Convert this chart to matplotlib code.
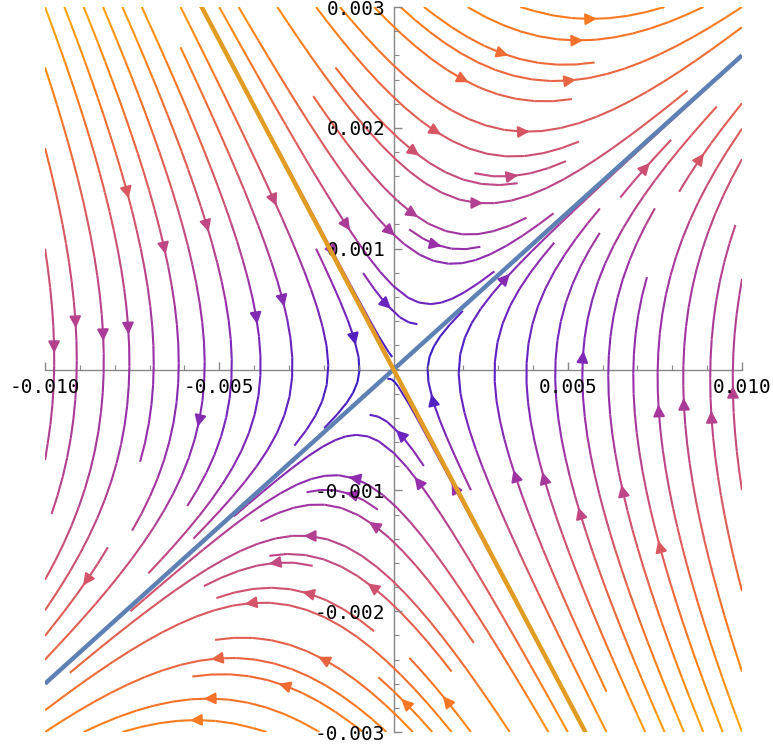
import numpy as np
import matplotlib
matplotlib.use("Agg")
import matplotlib.pyplot as plt
from matplotlib.colors import LinearSegmentedColormap, Normalize

# eigen-directions of the saddle
unstable_dir = [1.0, 0.26]     # blue line, flow goes outward
stable_dir = [1.0, -0.545]     # orange line, flow goes inward
unstable_rate = 1.0
stable_rate = -2.0

x_lim = [-0.010, 0.010]
y_lim = [-0.003, 0.003]
x_major = [-0.010, -0.005, 0.005, 0.010]
x_labels = ["-0.010", "-0.005", "0.005", "0.010"]
y_major = [-0.003, -0.002, -0.001, 0.001, 0.002, 0.003]
y_labels = ["-0.003", "-0.002", "-0.001", "0.001", "0.002", "0.003"]

# colours by speed, slow -> fast
speed_colors = ["#2b1cc4", "#6a22c0", "#9a30a8", "#c04884", "#dc5a5c",
                "#f06a34", "#ff8414", "#ffa70c"]

fig = plt.figure(figsize=(7.73, 7.46), dpi=100)
ax = fig.add_axes([45/773, 14/746, 697/773, 725/746])

# linear field A = P D P^-1
P = np.array([unstable_dir, stable_dir]).T
D = np.diag([unstable_rate, stable_rate])
A = P @ D @ np.linalg.inv(P)

xs = np.linspace(x_lim[0], x_lim[1], 300)
ys = np.linspace(y_lim[0], y_lim[1], 300)
X, Y = np.meshgrid(xs, ys)
U = A[0, 0]*X + A[0, 1]*Y
V = A[1, 0]*X + A[1, 1]*Y
speed = np.hypot(U, V)

cmap = LinearSegmentedColormap.from_list("mma", speed_colors)
kw = dict(color=speed, cmap=cmap, norm=Normalize(0, speed.max()),
          density=1.25, linewidth=1.5, arrowsize=1.7, arrowstyle="-|>",
          zorder=1)
try:
    ax.streamplot(X, Y, U, V, num_arrows=2, **kw)
except TypeError:
    ax.streamplot(X, Y, U, V, **kw)

# eigen lines
lx = np.array(x_lim)
ax.plot(lx, unstable_dir[1]/unstable_dir[0]*lx, color="#5e81b5", lw=3.2,
        zorder=3, solid_capstyle="butt")
ax.plot(lx, stable_dir[1]/stable_dir[0]*lx, color="#e19c24", lw=3.2,
        zorder=4, solid_capstyle="butt")

ax.set_xlim(x_lim)
ax.set_ylim(y_lim)

# mathematica style axes through origin
for s in ["top", "right"]:
    ax.spines[s].set_visible(False)
for s in ["left", "bottom"]:
    ax.spines[s].set_position("zero")
    ax.spines[s].set_color("#888888")
    ax.spines[s].set_linewidth(1.0)
    ax.spines[s].set_zorder(0.5)

ax.set_xticks(x_major)
ax.set_xticklabels(x_labels)
ax.set_yticks(y_major)
ax.set_yticklabels(y_labels)
ax.set_xticks(np.arange(-0.010, 0.0101, 0.001), minor=True)
ax.set_yticks(np.arange(-0.003, 0.00301, 0.0002), minor=True)
ax.tick_params(which="major", direction="in", length=6, width=1.0,
               color="#888888", labelsize=14, pad=6)
ax.tick_params(which="minor", direction="in", length=3.5, width=0.8,
               color="#888888")
for lab in ax.get_xticklabels() + ax.get_yticklabels():
    lab.set_family("DejaVu Sans Mono")

plt.savefig("out.png", dpi=100)
